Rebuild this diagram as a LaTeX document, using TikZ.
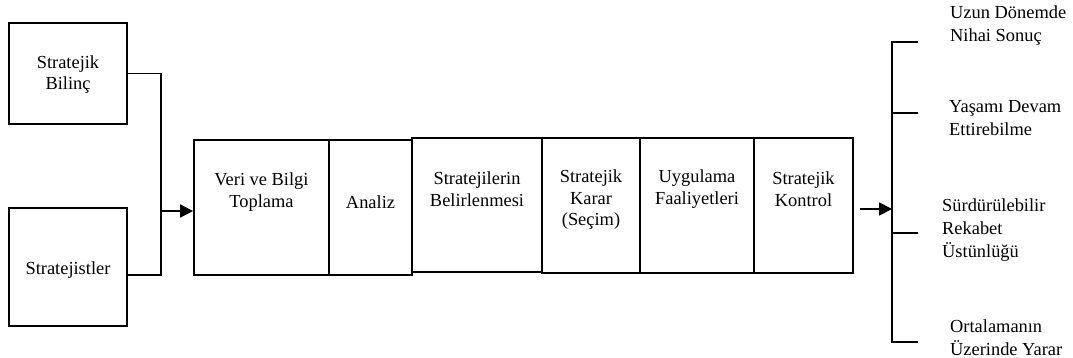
\documentclass[tikz,border=0pt]{standalone}
\usepackage{fontspec}
\setmainfont{Liberation Serif}
\usetikzlibrary{arrows.meta}
\tikzset{
  box/.style={draw, line width=1.8pt, rectangle, inner sep=0pt},
  txt/.style={inner sep=0pt, align=center, font=\fontsize{18.4pt}{21.5pt}\selectfont},
  rtxt/.style={inner sep=0pt, align=left, anchor=west, font=\fontsize{18.4pt}{23pt}\selectfont},
  conn/.style={line width=1.8pt},
  arr/.style={line width=1.8pt, -{Triangle[length=13pt,width=13pt]}}
}
\begin{document}
\begin{tikzpicture}[x=1pt,y=-1pt]
\useasboundingbox (0,0) rectangle (1073,358);
% input boxes
\node[box, minimum width=118pt, minimum height=101pt] (bilinc) at (68,73.5) {};
\node[box, minimum width=118pt, minimum height=118pt] (strat) at (68,267) {};
% process chain
\node[box, minimum width=135pt, minimum height=135pt] (veri) at (261.5,207.5) {};
\node[box, minimum width=83pt, minimum height=135pt] (analiz) at (370.5,207.5) {};
\node[box, minimum width=130pt, minimum height=134pt] (belir) at (477,205) {};
\node[box, minimum width=98pt, minimum height=135pt] (karar) at (591,205.5) {};
\node[box, minimum width=114pt, minimum height=135pt] (uyg) at (697,205.5) {};
\node[box, minimum width=99pt, minimum height=135pt] (kontrol) at (803.5,205.5) {};
% labels
\node[txt] (tBilinc) at (68,74.5) {Stratejik\\Bilinç};
\node[txt] (tStrat) at (68,270) {Stratejistler};
\node[txt] (tVeri) at (261.5,192) {Veri ve Bilgi\\Toplama};
\node[txt] (tAnaliz) at (370.5,202) {Analiz};
\node[txt] (tBelir) at (477,189) {Stratejilerin\\Belirlenmesi};
\node[txt] (tKarar) at (591,200) {Stratejik\\Karar\\(Seçim)};
\node[txt] (tUyg) at (697,189) {Uygulama\\Faaliyetleri};
\node[txt] (tKontrol) at (803.5,189) {Stratejik\\Kontrol};
% merging connector
\coordinate (j) at (161,211);
\coordinate (sOut) at (127,275);
\draw[conn] (bilinc.east) -| (j);
\draw[conn] (sOut) -| (j);
\draw[arr] (j) -- (veri.west |- j);
% output bracket
\coordinate (kOut) at (860,209);
\coordinate (b) at (892,209);
\coordinate (bTop) at (892,42);
\coordinate (bBot) at (892,342);
\draw[arr] (kOut) -- (b);
\draw[conn] (918,42) -- (bTop) -- (bBot) -- (918,342);
\draw[conn] (892,113) -- (918,113);
\draw[conn] (892,233) -- (918,233);
% outcomes
\node[rtxt] (o1) at (950,26) {Uzun Dönemde\\Nihai Sonuç};
\node[rtxt] (o2) at (949,118.5) {Yaşamı Devam\\Ettirebilme};
\node[rtxt] (o3) at (942,230) {Sürdürülebilir\\Rekabet\\Üstünlüğü};
\node[rtxt] (o4) at (950,338) {Ortalamanın\\Üzerinde Yarar};
\end{tikzpicture}
\end{document}
